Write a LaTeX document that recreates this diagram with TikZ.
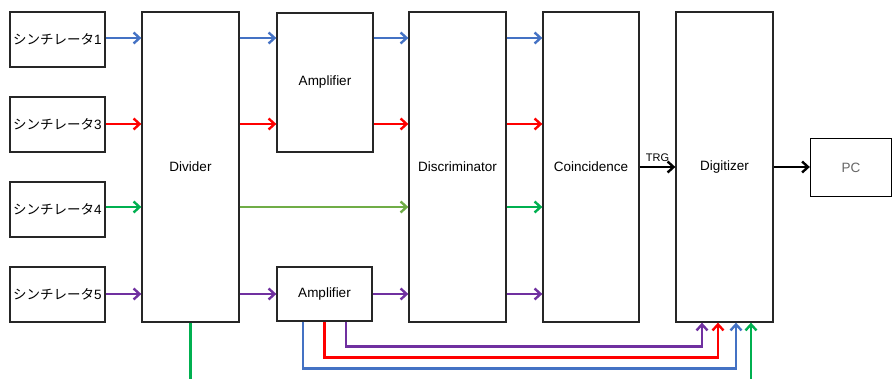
\documentclass[tikz,border=0pt]{standalone}
\usepackage{fontspec}
\setmainfont{Liberation Sans}
\newfontfamily\jp{Noto Sans CJK JP}
\usetikzlibrary{arrows.meta}
\definecolor{cblue}{HTML}{4472C4}
\definecolor{cred}{HTML}{FF0000}
\definecolor{cgreen}{HTML}{00B050}
\definecolor{clgreen}{HTML}{70AD47}
\definecolor{cpurple}{HTML}{7030A0}
\definecolor{cgray}{HTML}{666666}
\begin{document}
\begin{tikzpicture}[x=1pt,y=-1pt,
  box/.style={draw=black!85,line width=1.3pt,fill=white,inner sep=0pt,font=\fontsize{13.5}{15}\selectfont},
  wire/.style={line width=2.6pt,-{Straight Barb[length=6pt,width=11pt,line width=2.4pt]}},
  plain/.style={line width=2.6pt}]
\useasboundingbox (0,0) rectangle (894,379);
% scintillators
\node[box,minimum width=95pt,minimum height=55pt] (s1) at (57.5,39.5) {{\jp シンチレータ}1};
\node[box,minimum width=95pt,minimum height=55pt] (s3) at (57.5,124.5) {{\jp シンチレータ}3};
\node[box,minimum width=95pt,minimum height=55pt] (s4) at (57.5,209.5) {{\jp シンチレータ}4};
\node[box,minimum width=95pt,minimum height=55pt] (s5) at (57.5,294.5) {{\jp シンチレータ}5};
% main blocks
\node[box,minimum width=97pt,minimum height=310pt] (div) at (190.5,167) {Divider};
\node[box,minimum width=96pt,minimum height=139pt] (amp1) at (325,82.5) {Amplifier};
\node[box,minimum width=95pt,minimum height=54pt] (amp2) at (324.5,294) {Amplifier};
\node[box,minimum width=97pt,minimum height=310pt] (disc) at (457.5,167) {Discriminator};
\node[box,minimum width=96pt,minimum height=310pt] (coin) at (591,167) {Coincidence};
\node[box,minimum width=97pt,minimum height=310pt] (dig) at (724.5,167) {Digitizer};
\node[box,draw=black,minimum width=81pt,minimum height=58pt,text=cgray] (pc) at (851,167.5) {PC};
% row 1 (blue)
\draw[wire,cblue] (s1.east |- 0,38) -- (div.west |- 0,38);
\draw[wire,cblue] (div.east |- 0,38) -- (amp1.west |- 0,38);
\draw[wire,cblue] (amp1.east |- 0,38) -- (disc.west |- 0,38);
\draw[wire,cblue] (disc.east |- 0,38) -- (coin.west |- 0,38);
% row 3 (red)
\draw[wire,cred] (s3.east |- 0,124) -- (div.west |- 0,124);
\draw[wire,cred] (div.east |- 0,124) -- (amp1.west |- 0,124);
\draw[wire,cred] (amp1.east |- 0,124) -- (disc.west |- 0,124);
\draw[wire,cred] (disc.east |- 0,124) -- (coin.west |- 0,124);
% row 4 (green)
\draw[wire,cgreen] (s4.east |- 0,207) -- (div.west |- 0,207);
\draw[wire,clgreen] (div.east |- 0,207) -- (disc.west |- 0,207);
\draw[wire,cgreen] (disc.east |- 0,207) -- (coin.west |- 0,207);
% row 5 (purple)
\draw[wire,cpurple] (s5.east |- 0,294) -- (div.west |- 0,294);
\draw[wire,cpurple] (div.east |- 0,294) -- (amp2.west |- 0,294);
\draw[wire,cpurple] (amp2.east |- 0,294) -- (disc.west |- 0,294);
\draw[wire,cpurple] (disc.east |- 0,294) -- (coin.west |- 0,294);
% trigger and PC
\draw[wire,black] (coin.east |- 0,167) -- node[above=3pt,font=\fontsize{11}{12}\selectfont,inner sep=1pt] (trg) {TRG} (dig.west |- 0,167);
\draw[wire,black] (dig.east |- 0,167) -- (pc.west |- 0,167);
% bottom feed-back wires
\draw[wire,cpurple] ([xshift=21.5pt]amp2.south) -- ++(0,25) -| ([xshift=-22.5pt]dig.south);
\draw[wire,cred] (amp2.south) -- ++(0,36) -| ([xshift=-6.5pt]dig.south);
\draw[wire,cblue] ([xshift=-21.5pt]amp2.south) -- ++(0,47) -| ([xshift=11.5pt]dig.south);
\coordinate (gout) at (190.5,381);
\coordinate (gin) at (751,381);
\draw[plain,cgreen] (div.south) -- (gout);
\draw[wire,cgreen] (gin) -- (gin |- dig.south);
\end{tikzpicture}
\end{document}
